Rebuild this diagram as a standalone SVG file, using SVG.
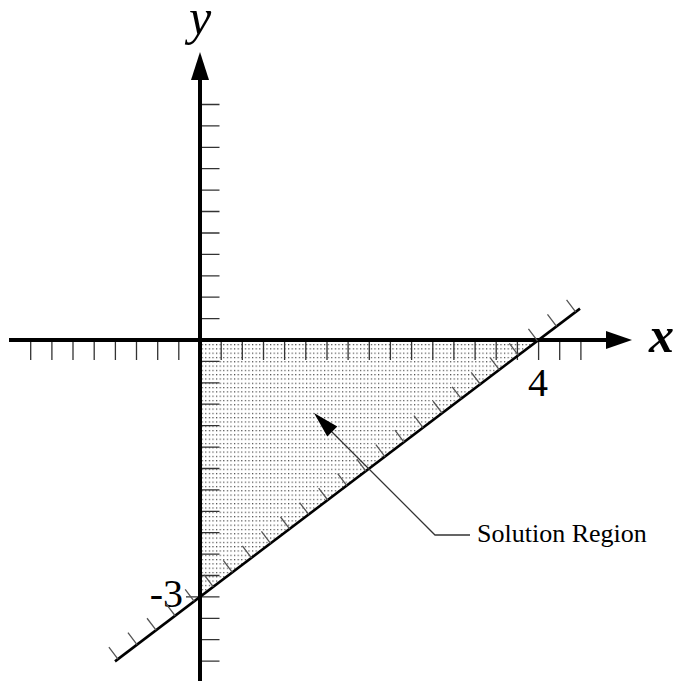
<svg xmlns="http://www.w3.org/2000/svg" width="676" height="681" viewBox="0 0 676 681">
<defs>
<pattern id="dots" patternUnits="userSpaceOnUse" width="3.6" height="4.3">
<rect x="0" y="0" width="1.2" height="1.2" fill="#444"/>
</pattern>
<style>
.axis{stroke:#000;stroke-width:4;fill:none}
.tick{stroke:#333;stroke-width:1.3;fill:none}
.hatch{stroke:#555;stroke-width:1.3;fill:none}
.bline{stroke:#000;stroke-width:2.6;fill:none}
.lead{stroke:#333;stroke-width:1.3;fill:none}
.lbl{font-family:"Liberation Serif","Times New Roman",serif;fill:#000}
</style>
</defs>
<rect width="676" height="681" fill="#fff"/>
<g id="solution-region">
<polygon points="200,340 538.6,340 200,596.9" fill="url(#dots)"/>
</g>
<g id="x-axis">
<line class="axis" x1="9" y1="340" x2="608" y2="340"/>
<polygon points="606,331 632,340 606,349" fill="#000"/>
<path class="tick" d="M30.7 342V360M51.9 342V360M73 342V360M94.2 342V360M115.4 342V360M136.5 342V360M157.7 342V360M178.8 342V360M221.2 342V360M242.3 342V360M263.5 342V360M284.6 342V360M305.8 342V360M327 342V360M348.1 342V360M369.3 342V360M390.4 342V360M411.6 342V360M432.8 342V360M453.9 342V360M475.1 342V360M496.2 342V360M517.4 342V360M538.6 342V360M559.7 342V360M580.9 342V360"/>
<text class="lbl" x="649" y="352" font-size="50" font-style="italic" font-weight="bold">x</text>
<text class="lbl" x="538" y="396" font-size="40" text-anchor="middle">4</text>
</g>
<g id="y-axis">
<line class="axis" x1="200" y1="78" x2="200" y2="681"/>
<polygon points="191,80 200,52 209,80" fill="#000"/>
<path class="tick" d="M202 318.6H219.5M202 297.2H219.5M202 275.8H219.5M202 254.4H219.5M202 233H219.5M202 211.5H219.5M202 190.1H219.5M202 168.7H219.5M202 147.3H219.5M202 125.9H219.5M202 104.5H219.5M202 361.4H219.5M202 382.8H219.5M202 404.2H219.5M202 425.6H219.5M202 447.1H219.5M202 468.5H219.5M202 489.9H219.5M202 511.3H219.5M202 532.7H219.5M202 554.1H219.5M202 575.5H219.5M202 596.9H219.5M202 618.3H219.5M202 639.7H219.5M202 661.2H219.5M186 596.9H198"/>
<text class="lbl" x="200" y="34" font-size="50" font-style="italic" text-anchor="middle">y</text>
<text class="lbl" x="183" y="607" font-size="40" text-anchor="end">-3</text>
</g>
<g id="boundary-line">
<line class="bline" x1="115" y1="661.4" x2="580" y2="308.6"/>
<path class="hatch" d="M117.95 659.15L108.88 647.2M137.02 644.68L127.95 632.73M156.09 630.21L147.02 618.26M175.16 615.75L166.09 603.8M194.23 601.28L185.16 589.33M213.3 586.81L204.23 574.86M232.37 572.34L223.3 560.39M251.44 557.87L242.37 545.92M270.51 543.4L261.44 531.45M289.58 528.94L280.51 516.99M308.65 514.47L299.58 502.52M327.72 500L318.65 488.05M346.79 485.53L337.72 473.58M365.86 471.06L356.79 459.11M384.93 456.59L375.86 444.64M404 442.13L394.93 430.18M423.07 427.66L414 415.71M442.14 413.19L433.07 401.24M461.21 398.72L452.14 386.77M480.28 384.25L471.21 372.3M499.35 369.78L490.28 357.83M518.42 355.31L509.35 343.36M537.49 340.85L528.42 328.9M556.56 326.38L547.49 314.43M575.63 311.91L566.56 299.96"/>
</g>
<g id="connectors">
<polyline class="lead" points="470,535 435,535 330,430"/>
<polygon points="314,413 337.3,426.6 327.3,436.4" fill="#000"/>
</g>
<g id="label-solution">
<text class="lbl" x="477" y="542" font-size="26">Solution Region</text>
</g>
</svg>
